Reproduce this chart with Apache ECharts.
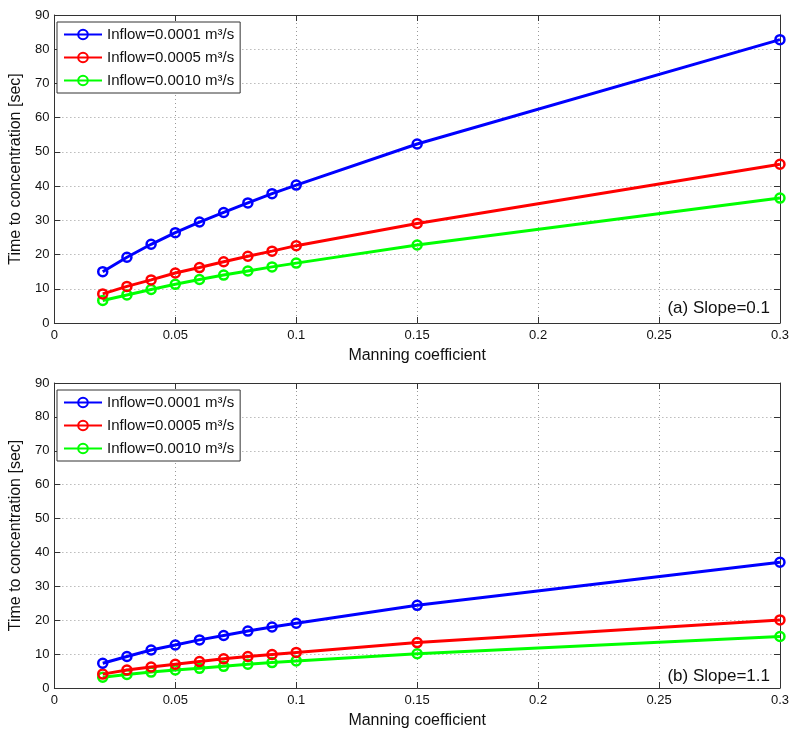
<!DOCTYPE html>
<html>
<head>
<meta charset="utf-8">
<script src="https://cdn.jsdelivr.net/npm/echarts@6/dist/echarts.min.js"></script>
<style>
  html, body { margin: 0; padding: 0; background: #fff; }
  #main { width: 792px; height: 730px; }
</style>
</head>
<body>
<div id="main"></div>
<script>
// Manning coefficient (x)
var manning = [0.02, 0.03, 0.04, 0.05, 0.06, 0.07, 0.08, 0.09, 0.1, 0.15, 0.3];
var seriesNames = ['Inflow=0.0001 m³/s', 'Inflow=0.0005 m³/s', 'Inflow=0.0010 m³/s'];
var colors = ['#0000ff', '#ff0000', '#00ff00'];

// (a) Slope=0.1
var slopeA_q1 = [15.0, 19.2, 23.0, 26.4, 29.5, 32.3, 35.1, 37.8, 40.3, 52.3, 82.8];
var slopeA_q5 = [8.5, 10.7, 12.6, 14.6, 16.2, 17.9, 19.5, 21.0, 22.6, 29.1, 46.4];
var slopeA_q10 = [6.6, 8.2, 9.8, 11.3, 12.7, 14.0, 15.2, 16.4, 17.5, 22.8, 36.5];

// (b) Slope=1.1
var slopeB_q1 = [7.3, 9.3, 11.2, 12.7, 14.2, 15.5, 16.8, 18.0, 19.1, 24.4, 37.1];
var slopeB_q5 = [4.1, 5.3, 6.2, 7.0, 7.8, 8.6, 9.3, 9.9, 10.5, 13.4, 20.1];
var slopeB_q10 = [3.2, 4.0, 4.7, 5.3, 5.8, 6.4, 7.0, 7.5, 8.0, 10.1, 15.2];

var panels = [
    {label: '(a) Slope=0.1', data: [slopeA_q1, slopeA_q5, slopeA_q10], top: 15},
    {label: '(b) Slope=1.1', data: [slopeB_q1, slopeB_q5, slopeB_q10], top: 383}
];

var FONT = 'Liberation Sans, Arial, Helvetica, sans-serif';
var AXIS_COLOR = '#333';

function pairs(ys){
    return manning.map(function(x, i){ return [x, ys[i]]; });
}

var grid = [], xAxis = [], yAxis = [], series = [], legend = [], title = [];

panels.forEach(function(p, k){
    grid.push({left: 51, top: p.top, width: 732, height: 308, show: false});

    // bottom x axis
    xAxis.push({
        type: 'value', gridIndex: k, min: 0, max: 0.3, interval: 0.05,
        name: 'Manning coefficient', nameLocation: 'middle', nameGap: 25,
        nameTextStyle: {fontFamily: FONT, fontSize: 16, color: '#111'},
        axisLine: {onZero: false, lineStyle: {color: AXIS_COLOR, width: 1}},
        axisTick: {inside: true, length: 6, lineStyle: {color: AXIS_COLOR}},
        axisLabel: {fontFamily: FONT, fontSize: 13, color: '#111', margin: 6,
            formatter: function(v){ return String(+v.toFixed(2)); }},
        splitLine: {show: true, lineStyle: {color: '#999', type: [1, 3], width: 1}}
    });
    // top x axis (box)
    xAxis.push({
        type: 'value', gridIndex: k, min: 0, max: 0.3, interval: 0.05, position: 'top',
        axisLine: {onZero: false, lineStyle: {color: AXIS_COLOR, width: 1}},
        axisTick: {inside: true, length: 6, lineStyle: {color: AXIS_COLOR}},
        axisLabel: {show: false}, splitLine: {show: false}
    });
    // left y axis
    yAxis.push({
        type: 'value', gridIndex: k, min: 0, max: 90, interval: 10,
        name: 'Time to concentration [sec]', nameLocation: 'middle', nameGap: 30,
        nameTextStyle: {fontFamily: FONT, fontSize: 16, color: '#111'},
        axisLine: {show: true, onZero: false, lineStyle: {color: AXIS_COLOR, width: 1}},
        axisTick: {show: true, inside: true, length: 6, lineStyle: {color: AXIS_COLOR}},
        axisLabel: {fontFamily: FONT, fontSize: 13, color: '#111', margin: 5},
        splitLine: {show: true, lineStyle: {color: '#999', type: [1, 3], width: 1}}
    });
    // right y axis (box)
    yAxis.push({
        type: 'value', gridIndex: k, min: 0, max: 90, interval: 10, position: 'right',
        axisLine: {show: true, onZero: false, lineStyle: {color: AXIS_COLOR, width: 1}},
        axisTick: {show: true, inside: true, length: 6, lineStyle: {color: AXIS_COLOR}},
        axisLabel: {show: false}, splitLine: {show: false}
    });

    p.data.forEach(function(ys, j){
        series.push({
            name: seriesNames[j], type: 'line',
            xAxisIndex: k * 2, yAxisIndex: k * 2,
            data: pairs(ys),
            symbol: 'circle', symbolSize: 9,
            showAllSymbol: true,
            color: colors[j],
            lineStyle: {width: 3, color: colors[j]},
            itemStyle: {color: 'rgba(255,255,255,0)', borderColor: colors[j], borderWidth: 2.5},
            z: 3 + (2 - j),
            animation: false
        });
    });

    legend.push({
        data: seriesNames, orient: 'vertical',
        left: 57, top: p.top + 7, itemGap: 8,
        itemWidth: 38, itemHeight: 12,
        padding: [5, 6, 5, 6],
        backgroundColor: '#fff', borderColor: '#333', borderWidth: 1,
        textStyle: {fontFamily: FONT, fontSize: 15, color: '#111'},
        selectedMode: false
    });

    title.push({
        text: p.label, right: 17, top: p.top + 280,
        textStyle: {fontFamily: FONT, fontSize: 17, fontWeight: 'normal', color: '#111'}
    });
});

var chart = echarts.init(document.getElementById('main'));
chart.setOption({
    backgroundColor: '#fff',
    animation: false,
    title: title,
    legend: legend,
    grid: grid,
    xAxis: xAxis,
    yAxis: yAxis,
    series: series
});
</script>
</body>
</html>
